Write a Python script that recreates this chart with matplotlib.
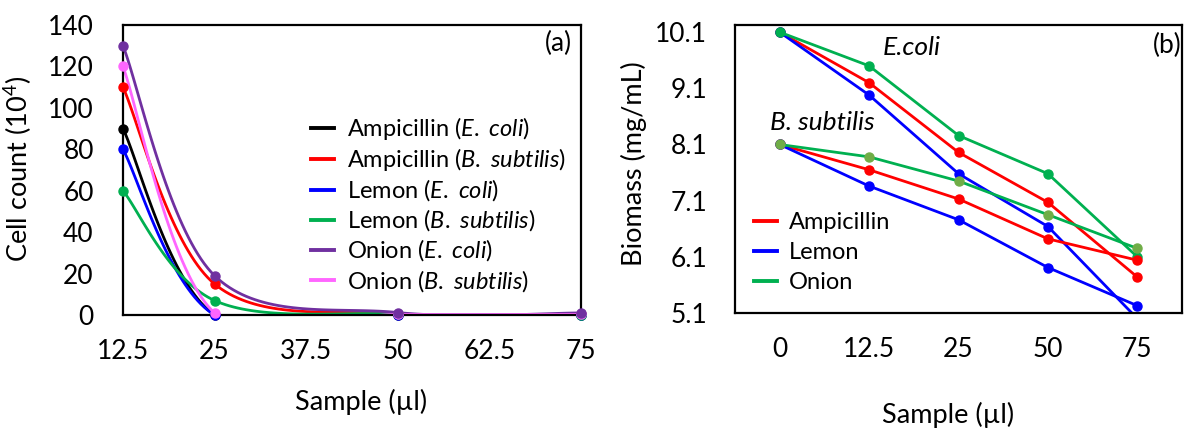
import numpy as np
import matplotlib
matplotlib.use("Agg")
import matplotlib.pyplot as plt
from matplotlib.lines import Line2D

plt.rcParams['font.family'] = ['Lato', 'DejaVu Sans']
plt.rcParams['mathtext.fontset'] = 'custom'
plt.rcParams['mathtext.rm'] = 'Lato'
plt.rcParams['mathtext.it'] = 'Lato:italic'
plt.rcParams['mathtext.bf'] = 'Lato:bold'

# ---------------- Panel (a) data ----------------
sample_a = [12.5, 25, 50, 75]
amp_ecoli_a = [90, 0, 0, 0]
amp_bsub_a = [110, 15, 0.5, 0.3]
lemon_ecoli_a = [80, 0, 0, 0]
lemon_bsub_a = [60, 7, 0.5, 0]
onion_ecoli_a = [130, 19, 1.2, 1]
onion_bsub_a = [120, 1, 0.3, 0.3]
xticks_a = [12.5, 25, 37.5, 50, 62.5, 75]
xticklabels_a = ["12.5", "25", "37.5", "50", "62.5", "75"]
yticks_a = [0, 20, 40, 60, 80, 100, 120, 140]

# ---------------- Panel (b) data ----------------
categories_b = ["0", "12.5", "25", "50", "75"]
amp_ecoli_b = [10.1, 9.2, 7.96, 7.07, 5.74]
lemon_ecoli_b = [10.1, 8.98, 7.58, 6.64, 5.0]
onion_ecoli_b = [10.1, 9.5, 8.26, 7.58, 6.1]
amp_bsub_b = [8.1, 7.65, 7.13, 6.42, 6.04]
lemon_bsub_b = [8.1, 7.36, 6.76, 5.91, 5.23]
onion_bsub_b = [8.1, 7.88, 7.45, 6.85, 6.25]
yticks_b = [5.1, 6.1, 7.1, 8.1, 9.1, 10.1]

RED = '#FF0000'
BLUE = '#0000FF'
GREEN = '#00B050'
OLIVE = '#70AD47'
PURPLE = '#7030A0'
PINK = '#FF66FF'
BLACK = '#000000'

FS_TICK = 19
FS_LAB = 19.5
FS_LEG = 17
FS_ANN = 19
LW = 2.0


def smooth(x, y, n=40):
    """Catmull-Rom style Bezier smoothing (like a spreadsheet smoothed line)."""
    P = np.column_stack([np.asarray(x, float), np.asarray(y, float)])
    out = []
    for i in range(len(P) - 1):
        p0 = P[i - 1] if i > 0 else P[i]
        p1 = P[i]
        p2 = P[i + 1]
        p3 = P[i + 2] if i + 2 < len(P) else P[i + 1]
        c1 = p1 + (p2 - p0) / 6.0
        c2 = p2 - (p3 - p1) / 6.0
        t = np.linspace(0, 1, n)[:, None]
        seg = ((1 - t) ** 3) * p1 + 3 * ((1 - t) ** 2) * t * c1 + 3 * (1 - t) * t ** 2 * c2 + t ** 3 * p2
        out.append(seg if i == 0 else seg[1:])
    s = np.vstack(out)
    return s[:, 0], s[:, 1]


fig = plt.figure(figsize=(11.87, 4.29), dpi=100)
ax1 = fig.add_axes([0.1036, 0.2657, 0.3858, 0.676])
ax2 = fig.add_axes([0.6192, 0.2704, 0.3766, 0.671])

# ---------------- Panel (a) ----------------
series_a = [
    (amp_ecoli_a, BLACK, 'Ampicillin ($\\mathit{E.\\ coli}$)', 3),
    (amp_bsub_a, RED, 'Ampicillin ($\\mathit{B.\\ subtilis}$)', 3),
    (lemon_ecoli_a, BLUE, 'Lemon ($\\mathit{E.\\ coli}$)', 3),
    (lemon_bsub_a, GREEN, 'Lemon $\\mathit{(B.\\ subtilis)}$', 3),
    (onion_ecoli_a, PURPLE, 'Onion $\\mathit{(E.\\ coli)}$', 3.2),
    (onion_bsub_a, PINK, 'Onion $\\mathit{(B.\\ subtilis)}$', 3.1),
]
handles = []
for vals, col, lab, z in series_a:
    sx, sy = smooth(sample_a, vals)
    ax1.plot(sx, sy, color=col, lw=LW, solid_capstyle='round')
    ax1.plot(sample_a, vals, 'o', color=col, ms=6.5, clip_on=False, zorder=z)
    handles.append(Line2D([], [], color=col, lw=2.8, label=lab))

ax1.set_xlim(12.5, 75)
ax1.set_ylim(0, 140)
ax1.set_xticks(xticks_a)
ax1.set_xticklabels(xticklabels_a)
ax1.set_yticks(yticks_a)
ax1.tick_params(length=0, labelsize=FS_TICK)
ax1.tick_params(axis='x', pad=17)
ax1.tick_params(axis='y', pad=21)
for sp in ax1.spines.values():
    sp.set_linewidth(1.6)
ax1.set_xlabel('Sample (µl)', fontsize=FS_LAB)
ax1.xaxis.set_label_coords(0.52, -0.255)
ax1.set_ylabel('Cell count (10$^{4}$)', fontsize=FS_LAB)
ax1.yaxis.set_label_coords(-0.195, 0.505)
ax1.text(0.95, 0.938, '(a)', transform=ax1.transAxes, ha='center', va='center', fontsize=FS_ANN)
ax1.legend(handles=handles, loc='upper left', bbox_to_anchor=(0.41, 0.69), frameon=False,
           fontsize=FS_LEG, handlelength=1.0, handletextpad=0.55, labelspacing=0.18, borderpad=0,
           borderaxespad=0)

# ---------------- Panel (b) ----------------
xb = np.arange(len(categories_b))
series_b = [
    (amp_ecoli_b, RED, RED),
    (lemon_ecoli_b, BLUE, BLUE),
    (onion_ecoli_b, GREEN, GREEN),
    (amp_bsub_b, RED, RED),
    (lemon_bsub_b, BLUE, BLUE),
    (onion_bsub_b, GREEN, OLIVE),
]
for vals, col, mcol in series_b:
    ax2.plot(xb, vals, '-o', color=col, lw=LW, ms=6.5, mfc=mcol, mec=mcol)

ax2.set_xlim(-0.5, 4.5)
ax2.set_ylim(5.1, 10.225)
ax2.set_xticks(xb)
ax2.set_xticklabels(categories_b)
ax2.set_yticks(yticks_b)
ax2.set_yticklabels([f"{v:.1f}" for v in yticks_b])
ax2.tick_params(length=0, labelsize=FS_TICK)
ax2.tick_params(axis='x', pad=17)
ax2.tick_params(axis='y', pad=20)
for sp in ax2.spines.values():
    sp.set_linewidth(1.6)
ax2.set_xlabel('Sample (µl)', fontsize=FS_LAB)
ax2.xaxis.set_label_coords(0.477, -0.31)
ax2.set_ylabel('Biomass (mg/mL)', fontsize=FS_LAB)
ax2.yaxis.set_label_coords(-0.197, 0.52)
ax2.text(0.966, 0.93, '(b)', transform=ax2.transAxes, ha='center', va='center', fontsize=FS_ANN)
ax2.text(0.396, 0.924, 'E.coli', transform=ax2.transAxes, ha='center', va='center',
         fontsize=FS_ANN, style='italic')
ax2.text(0.195, 0.663, 'B. subtilis', transform=ax2.transAxes, ha='center', va='center',
         fontsize=FS_ANN, style='italic')
hb = [Line2D([], [], color=RED, lw=2.8, label='Ampicillin'),
      Line2D([], [], color=BLUE, lw=2.8, label='Lemon'),
      Line2D([], [], color=GREEN, lw=2.8, label='Onion')]
ax2.legend(handles=hb, loc='upper left', bbox_to_anchor=(0.042, 0.35), frameon=False,
           fontsize=FS_LEG, handlelength=1.0, handletextpad=0.5, labelspacing=0.38, borderpad=0,
           borderaxespad=0)

fig.savefig('out.png', dpi=100)
